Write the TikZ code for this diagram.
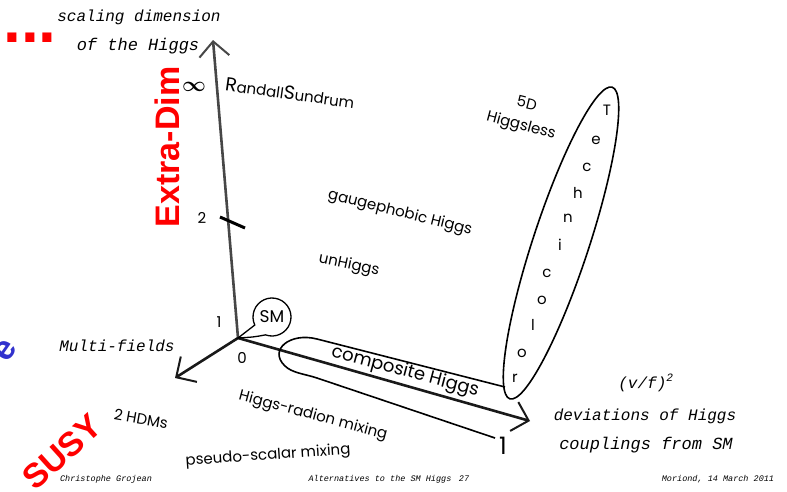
\documentclass[tikz,border=0pt]{standalone}
\usepackage{fontspec}
\usetikzlibrary{arrows.meta,shapes.geometric}
\newfontfamily\comic{Poppins}
\newfontfamily\hand{Liberation Mono}
\newfontfamily\arialf{Liberation Sans}
\definecolor{slidered}{RGB}{255,0,0}
\definecolor{slideblue}{RGB}{50,50,205}
\begin{document}
\begin{tikzpicture}[x=1pt,y=-1pt,
  comiclbl/.style={font=\comic\fontsize{15}{15}\selectfont, inner sep=0pt},
  handlbl/.style={font=\hand\itshape\fontsize{16}{16}\selectfont, inner sep=0pt},
  footlbl/.style={font=\hand\itshape\fontsize{8.5}{8.5}\selectfont, inner sep=0pt},
  biglbl/.style={font=\arialf\bfseries\fontsize{34}{34}\selectfont, inner sep=0pt},
  axisline/.style={line width=2.6pt, -{Straight Barb[length=15pt,width=30pt,line width=2pt]}},
  outline/.style={line width=1.6pt},
  letter/.style={font=\comic\fontsize{15}{15}\selectfont, inner sep=0pt}]
\useasboundingbox (0,0) rectangle (787,491);

% coordinates
\coordinate (O) at (238,338);
\coordinate (ytip) at (213,40);
\coordinate (xtip) at (530,421);
\coordinate (mtip) at (175,378);
\coordinate (t2a) at (220,217);
\coordinate (t2b) at (245,228);

% axes
\draw[axisline, black!72] (O) -- (ytip);
\draw[axisline, black!90] (O) -- (mtip);
\draw[axisline, black!90] (O) -- (xtip);
\draw[line width=3pt] (t2a) -- (t2b);

% red dots and big labels
\node[font=\arialf\bfseries\fontsize{64}{64}\selectfont, text=slidered, inner sep=0pt, anchor=base] (dots) at (30,42) {...};
\node[biglbl, text=slidered, rotate=90] (extra) at (167,147) {Extra-Dim};
\node[biglbl, text=slidered, rotate=42] (susy) at (62,452) {SUSY};
\node[biglbl, text=slideblue, rotate=55] (blue) at (6,351) {e};

% axis titles
\node[handlbl] (scal1) at (139,17) {scaling dimension};
\node[handlbl, font=\hand\itshape\fontsize{17}{17}\selectfont] (scal2) at (138,46) {of the Higgs};
\node[handlbl] (multi) at (117,346) {Multi-fields};
\node[handlbl] (vf) at (646,383) {(v/f)\textsuperscript{2}};
\node[handlbl] (dev1) at (645,416) {deviations of Higgs};
\node[handlbl, font=\hand\itshape\fontsize{17}{17}\selectfont] (dev2) at (646,445) {couplings from SM};

% numbers
\node[font=\boldmath\fontsize{20}{20}\selectfont, inner sep=0pt] (inf) at (194,87) {$\infty$};
\node[comiclbl] (n2) at (202,218) {2};
\node[comiclbl] (n1) at (219,322) {1};
\node[comiclbl] (n0) at (242,358) {0};
\node[font=\comic\fontsize{24}{24}\selectfont, inner sep=0pt] (x1) at (503,446) {1};

% model labels
\node[comiclbl, rotate=-8] (rs) at (290,93) {{\fontsize{19}{19}\selectfont R}andall{\fontsize{19}{19}\selectfont S}undrum};
\node[comiclbl, rotate=-14] (hl5) at (527,103) {5D};
\node[comiclbl, rotate=-15] (hl) at (521,126) {Higgsless};
\node[comiclbl, rotate=-14] (gp) at (400,213) {gaugephobic Higgs};
\node[comiclbl, rotate=-12] (un) at (349,265) {unHiggs};
\node[comiclbl, rotate=-15] (hr) at (313,416) {Higgs-radion mixing};
\node[comiclbl, rotate=4] (ps) at (268,456) {pseudo-scalar mixing};
\node[comiclbl, rotate=-10] (hdm) at (141,419) {2 HDMs};
\node[font=\comic\fontsize{18}{18}\selectfont, inner sep=0pt, rotate=-15] (comp) at (405,372) {composite Higgs};

% SM balloon
\node[font=\comic\fontsize{17}{17}\selectfont, inner sep=0pt] (sm) at (272,317) {SM};
\begin{scope}[shift={(272,317)}, y=1pt]
\draw[line width=1.3pt] (250:19) arc[start angle=250, end angle=565, radius=19]
  .. controls (-26,-15) .. (-34,-21) .. controls (-18,-20) .. (250:19);
\end{scope}

% composite Higgs outline
\draw[outline] (505,387) -- (317,339) .. controls (290,332) and (268,350) .. (285,366)
  .. controls (292,373) and (305,374) .. (317,378) -- (495,438);

% Technicolor outline and letters
\node[draw, ellipse, outline, minimum width=328pt, minimum height=56pt, rotate=71.8] (tc) at (561,243) {};
\node[letter] (l1) at (607,110) {T};
\node[letter] (l2) at (596,140) {e};
\node[letter] (l3) at (587,167) {c};
\node[letter] (l4) at (578,193) {h};
\node[letter] (l5) at (568,218) {n};
\node[letter] (l6) at (560,245) {i};
\node[letter] (l7) at (547,273) {c};
\node[letter] (l8) at (542,300) {o};
\node[letter] (l9) at (533,325) {l};
\node[letter] (l10) at (522,353) {o};
\node[letter] (l11) at (515,378) {r};

% footer
\node[footlbl] (f1) at (106,479) {Christophe Grojean};
\node[footlbl] (f2) at (380,479) {Alternatives to the SM Higgs};
\node[footlbl] (f3) at (464,479) {27};
\node[footlbl] (f4) at (718,479) {Moriond, 14 March 2011};
\end{tikzpicture}
\end{document}
